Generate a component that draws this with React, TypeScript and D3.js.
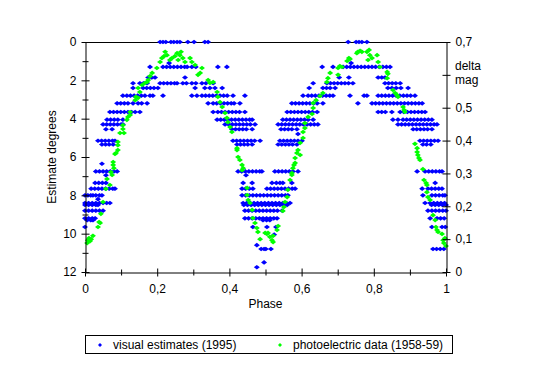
import React, { useEffect, useRef } from 'react';
import * as d3 from 'd3';

// visual estimates: [estimate, phases at that estimate]
const visualRows: [number, number[]][] = [
  [0.0, [0.208, 0.216, 0.224, 0.238, 0.246, 0.255, 0.263, 0.285, 0.302, 0.332, 0.341, 0.729, 0.751, 0.759, 0.767, 0.781]],
  [1.1, [0.233, 0.737]],
  [1.3, [0.18, 0.216, 0.226, 0.236, 0.246, 0.256, 0.266, 0.276, 0.283, 0.296, 0.307, 0.368, 0.393, 0.657, 0.687, 0.715, 0.725, 0.735, 0.745, 0.755, 0.765, 0.775, 0.785, 0.795, 0.805, 0.815, 0.825, 0.835, 0.845]],
  [1.85, [0.175, 0.185, 0.194, 0.277, 0.704, 0.731, 0.812, 0.822, 0.831]],
  [2.15, [0.133, 0.152, 0.162, 0.172, 0.208, 0.218, 0.228, 0.238, 0.248, 0.255, 0.271, 0.281, 0.296, 0.307, 0.324, 0.335, 0.355, 0.632, 0.67, 0.68, 0.69, 0.7, 0.71, 0.72, 0.73, 0.742, 0.831, 0.841, 0.851, 0.861, 0.873]],
  [2.4, [0.133, 0.161, 0.171, 0.181, 0.191, 0.202, 0.305, 0.332, 0.346, 0.36, 0.38, 0.621, 0.659, 0.669, 0.679, 0.693, 0.839, 0.85, 0.862, 0.875, 0.895]],
  [2.8, [0.105, 0.116, 0.126, 0.136, 0.146, 0.156, 0.166, 0.18, 0.188, 0.216, 0.296, 0.31, 0.324, 0.334, 0.344, 0.354, 0.364, 0.374, 0.384, 0.394, 0.41, 0.443, 0.604, 0.618, 0.628, 0.638, 0.648, 0.658, 0.668, 0.678, 0.687, 0.734, 0.773, 0.781, 0.812, 0.822, 0.832, 0.842, 0.852, 0.862, 0.872, 0.882, 0.892, 0.902, 0.914]],
  [3.2, [0.089, 0.099, 0.109, 0.119, 0.133, 0.147, 0.157, 0.172, 0.341, 0.355, 0.365, 0.375, 0.385, 0.395, 0.405, 0.413, 0.429, 0.573, 0.583, 0.593, 0.603, 0.613, 0.623, 0.633, 0.643, 0.659, 0.756, 0.795, 0.805, 0.815, 0.825, 0.835, 0.845, 0.855, 0.865, 0.875, 0.885, 0.895, 0.905, 0.915, 0.925, 0.934]],
  [3.65, [0.069, 0.079, 0.089, 0.099, 0.109, 0.119, 0.129, 0.139, 0.152, 0.355, 0.368, 0.378, 0.388, 0.398, 0.408, 0.418, 0.428, 0.443, 0.56, 0.57, 0.58, 0.59, 0.6, 0.61, 0.62, 0.63, 0.643, 0.812, 0.822, 0.832, 0.85, 0.873, 0.883, 0.893, 0.903, 0.913, 0.923, 0.933, 0.942]],
  [4.05, [0.061, 0.071, 0.081, 0.091, 0.105, 0.366, 0.376, 0.386, 0.396, 0.406, 0.416, 0.426, 0.436, 0.446, 0.456, 0.463, 0.548, 0.558, 0.568, 0.578, 0.588, 0.598, 0.608, 0.618, 0.632, 0.853, 0.867, 0.881, 0.891, 0.901, 0.911, 0.921, 0.931, 0.941, 0.951, 0.961]],
  [4.3, [0.05, 0.06, 0.07, 0.08, 0.09, 0.1, 0.105, 0.388, 0.398, 0.408, 0.418, 0.428, 0.438, 0.448, 0.458, 0.471, 0.535, 0.545, 0.555, 0.565, 0.575, 0.585, 0.595, 0.605, 0.615, 0.625, 0.635, 0.645, 0.867, 0.877, 0.887, 0.897, 0.907, 0.917, 0.927, 0.937, 0.947, 0.957, 0.967, 0.975]],
  [4.55, [0.058, 0.075, 0.407, 0.417, 0.427, 0.437, 0.447, 0.463, 0.543, 0.553, 0.563, 0.573, 0.587, 0.909, 0.919, 0.929, 0.939, 0.949, 0.961]],
  [4.8, [0.59]],
  [5.15, [0.036, 0.046, 0.056, 0.066, 0.076, 0.083, 0.41, 0.42, 0.43, 0.44, 0.45, 0.46, 0.47, 0.485, 0.54, 0.55, 0.56, 0.57, 0.58, 0.59, 0.601, 0.928, 0.938, 0.948, 0.958, 0.968, 0.978]],
  [5.35, [0.047, 0.057, 0.067, 0.078, 0.421, 0.431, 0.441, 0.451, 0.463, 0.535, 0.545, 0.555, 0.565, 0.575, 0.587, 0.936, 0.946, 0.958]],
  [6.35, [0.047]],
  [6.75, [0.03, 0.04, 0.05, 0.06, 0.07, 0.08, 0.089, 0.424, 0.434, 0.444, 0.454, 0.464, 0.474, 0.484, 0.49, 0.526, 0.536, 0.546, 0.556, 0.566, 0.576, 0.59, 0.92, 0.942, 0.952, 0.962, 0.972, 0.982, 0.989]],
  [6.95, [0.058, 0.446]],
  [7.35, [0.028, 0.038, 0.048, 0.058, 0.438, 0.463, 0.518, 0.53, 0.54, 0.548, 0.573, 0.97]],
  [7.65, [0.017, 0.027, 0.037, 0.047, 0.057, 0.067, 0.077, 0.083, 0.435, 0.445, 0.455, 0.465, 0.504, 0.514, 0.524, 0.534, 0.544, 0.554, 0.564, 0.574, 0.582, 0.934, 0.95, 0.96, 0.97, 0.98, 0.989]],
  [8.0, [0.0, 0.008, 0.016, 0.022, 0.03, 0.04, 0.047, 0.435, 0.445, 0.455, 0.465, 0.475, 0.485, 0.495, 0.505, 0.515, 0.525, 0.535, 0.545, 0.555, 0.562, 0.936, 0.961, 0.971, 0.981, 0.991, 0.997]],
  [8.2, [0.036]],
  [8.4, [0.0, 0.01, 0.02, 0.03, 0.04, 0.05, 0.06, 0.069, 0.438, 0.448, 0.458, 0.468, 0.478, 0.488, 0.498, 0.508, 0.518, 0.528, 0.538, 0.548, 0.558, 0.568, 0.942, 0.956, 0.966, 0.976, 0.986, 0.996]],
  [8.5, [0.0, 0.01, 0.02, 0.03, 0.036, 0.44, 0.45, 0.46, 0.47, 0.48, 0.49, 0.5, 0.51, 0.52, 0.53, 0.54, 0.55, 0.56, 0.96, 0.97, 0.98, 0.99, 1.0]],
  [8.8, [0.0, 0.01, 0.02, 0.03, 0.04, 0.05, 0.443, 0.453, 0.463, 0.473, 0.483, 0.493, 0.503, 0.513, 0.523, 0.533, 0.546, 0.95, 0.961, 0.971, 0.981, 0.991, 1.0]],
  [9.2, [0.0, 0.01, 0.02, 0.028, 0.443, 0.453, 0.463, 0.473, 0.483, 0.493, 0.503, 0.513, 0.523, 0.532, 0.956, 0.975, 0.985, 0.995]],
  [9.3, [0.006, 0.016, 0.022, 0.493, 0.503, 0.512]],
  [9.65, [0.0, 0.465, 0.504, 0.529, 0.961, 0.989, 0.998]],
  [10.05, [0.524]],
  [10.6, [0.476]],
  [10.8, [0.488, 0.496, 0.501, 0.515, 0.964, 0.974, 0.984, 0.994]],
  [11.5, [0.496]],
  [11.75, [0.476]],
];

// photoelectric data: [phase, delta mag]
const photoData: [number, number][] = [
  [0.006, 0.088], [0.008, 0.097], [0.011, 0.103], [0.014, 0.094], [0.017, 0.1], [0.022, 0.11],
  [0.036, 0.137], [0.039, 0.152], [0.042, 0.149], [0.044, 0.177], [0.05, 0.213], [0.058, 0.253],
  [0.061, 0.283], [0.069, 0.265], [0.072, 0.304], [0.075, 0.295], [0.078, 0.335], [0.078, 0.326],
  [0.08, 0.316], [0.083, 0.359], [0.086, 0.362], [0.091, 0.371], [0.091, 0.396], [0.091, 0.386],
  [0.097, 0.423], [0.105, 0.447], [0.105, 0.435], [0.108, 0.423], [0.116, 0.463], [0.119, 0.472],
  [0.125, 0.478], [0.125, 0.487], [0.139, 0.523], [0.141, 0.533], [0.147, 0.53], [0.152, 0.548],
  [0.147, 0.56], [0.158, 0.569], [0.166, 0.575], [0.172, 0.578], [0.175, 0.584], [0.18, 0.596],
  [0.186, 0.606], [0.199, 0.621], [0.208, 0.639], [0.213, 0.651], [0.219, 0.657], [0.222, 0.67],
  [0.227, 0.66], [0.235, 0.645], [0.241, 0.651], [0.249, 0.657], [0.255, 0.666], [0.258, 0.645],
  [0.263, 0.66], [0.266, 0.67], [0.271, 0.651], [0.277, 0.639], [0.291, 0.651], [0.296, 0.639],
  [0.305, 0.63], [0.313, 0.6], [0.319, 0.606], [0.324, 0.621], [0.341, 0.584], [0.346, 0.575],
  [0.355, 0.578], [0.366, 0.548], [0.368, 0.533], [0.374, 0.517], [0.38, 0.502], [0.388, 0.484],
  [0.393, 0.469], [0.396, 0.456], [0.402, 0.441], [0.407, 0.426], [0.421, 0.377], [0.421, 0.371],
  [0.424, 0.35], [0.429, 0.341], [0.435, 0.326], [0.438, 0.316], [0.435, 0.31], [0.449, 0.256],
  [0.449, 0.234], [0.452, 0.219], [0.457, 0.21], [0.463, 0.189], [0.465, 0.164], [0.471, 0.149],
  [0.476, 0.134], [0.479, 0.122], [0.485, 0.1], [0.499, 0.119], [0.504, 0.116], [0.507, 0.119],
  [0.512, 0.107], [0.518, 0.097], [0.521, 0.091], [0.521, 0.11], [0.532, 0.128], [0.535, 0.14],
  [0.548, 0.186], [0.551, 0.198], [0.554, 0.213], [0.56, 0.228], [0.562, 0.25], [0.568, 0.28],
  [0.573, 0.295], [0.573, 0.301], [0.576, 0.316], [0.579, 0.326], [0.582, 0.332], [0.582, 0.347],
  [0.587, 0.362], [0.59, 0.371], [0.596, 0.356], [0.596, 0.393], [0.604, 0.408], [0.604, 0.426],
  [0.609, 0.438], [0.609, 0.453], [0.618, 0.472], [0.629, 0.481], [0.632, 0.499], [0.632, 0.514],
  [0.64, 0.523], [0.651, 0.536], [0.659, 0.545], [0.67, 0.578], [0.673, 0.59], [0.679, 0.606],
  [0.701, 0.6], [0.701, 0.621], [0.706, 0.627], [0.712, 0.624], [0.726, 0.642], [0.731, 0.651],
  [0.734, 0.648], [0.753, 0.666], [0.756, 0.67], [0.762, 0.673], [0.767, 0.67], [0.781, 0.67],
  [0.787, 0.676], [0.789, 0.66], [0.795, 0.651], [0.784, 0.645], [0.809, 0.66], [0.812, 0.639],
  [0.817, 0.624], [0.837, 0.609], [0.839, 0.603], [0.837, 0.59], [0.853, 0.554], [0.859, 0.545],
  [0.864, 0.539], [0.867, 0.533], [0.881, 0.502], [0.884, 0.493], [0.886, 0.487], [0.914, 0.39],
  [0.92, 0.377], [0.92, 0.365], [0.922, 0.356], [0.925, 0.347], [0.928, 0.341], [0.936, 0.313],
  [0.939, 0.28], [0.945, 0.271], [0.947, 0.265], [0.947, 0.243], [0.95, 0.228], [0.956, 0.219],
  [0.964, 0.173], [0.97, 0.158], [0.972, 0.137], [0.975, 0.128], [0.978, 0.122], [0.989, 0.116],
  [0.992, 0.097], [0.994, 0.088], [1.0, 0.079], [0.997, 0.103],
];

const phaseTicks = [0, 0.2, 0.4, 0.6, 0.8, 1];
const phaseMinor = [0.1, 0.3, 0.5, 0.7, 0.9];
const estTicks = [0, 2, 4, 6, 8, 10, 12];
const estMinor = [1, 3, 5, 7, 9, 11];
const magTicks = [0, 0.1, 0.2, 0.3, 0.4, 0.5, 0.6, 0.7];

const FONT = 'Arial, "Liberation Sans", sans-serif';
const BLUE = '#0000ff';
const GREEN = '#00ff00';
const diamond = 'M0,-2.3L3,0L0,2.3L-3,0Z';

const comma = (d: number) => String(d).replace('.', ',');

const App: React.FC = () => {
  const svgRef = useRef<SVGSVGElement>(null);

  useEffect(() => {
    if (!svgRef.current) return;
    const svg = d3.select(svgRef.current);
    svg.selectAll('*').remove();

    const left = 85, right = 446, top = 42, bottom = 272;

    const x = d3.scaleLinear().domain([0, 1]).range([left, right]);
    const yEst = d3.scaleLinear().domain([0, 12]).range([top, bottom]);
    const yMag = d3.scaleLinear().domain([0, 0.7]).range([bottom, top]);

    // plot frame top line
    svg.append('line')
      .attr('x1', left).attr('x2', right)
      .attr('y1', top + 0.5).attr('y2', top + 0.5)
      .attr('stroke', '#000');

    // visual estimates
    const visual = visualRows.flatMap(([est, phases]) => phases.map(p => [p, est] as [number, number]));
    svg.append('g')
      .selectAll('path')
      .data(visual)
      .enter()
      .append('path')
      .attr('d', diamond)
      .attr('transform', d => `translate(${x(d[0])},${yEst(d[1])})`)
      .attr('fill', BLUE);

    // photoelectric data
    svg.append('g')
      .selectAll('path')
      .data(photoData)
      .enter()
      .append('path')
      .attr('d', diamond)
      .attr('transform', d => `translate(${x(d[0])},${yMag(d[1])})`)
      .attr('fill', GREEN);

    const styleAxis = (g: d3.Selection<SVGGElement, unknown, null, undefined>) => {
      g.selectAll('text').style('font-family', FONT).style('font-size', '12px').attr('fill', '#000');
      g.selectAll('line').attr('stroke', '#000');
      g.select('.domain').attr('stroke', '#000');
    };

    // left axis
    const gL = svg.append('g')
      .attr('transform', `translate(${left + 0.5},0)`)
      .call(d3.axisLeft(yEst).tickValues(estTicks).tickSize(4).tickSizeOuter(0).tickPadding(5).tickFormat(d => comma(d as number)));
    gL.selectAll('.tick line').attr('x1', 4);
    styleAxis(gL);
    const gLm = svg.append('g')
      .attr('transform', `translate(${left + 0.5},0)`)
      .call(d3.axisLeft(yEst).tickValues(estMinor).tickSize(3).tickFormat(() => ''));
    gLm.select('.domain').remove();
    gLm.selectAll('.tick line').attr('x1', 3).attr('stroke', '#000');

    // right axis
    const gR = svg.append('g')
      .attr('transform', `translate(${right + 0.5},0)`)
      .call(d3.axisRight(yMag).tickValues(magTicks).tickSize(4).tickSizeOuter(0).tickPadding(5)
        .tickFormat(d => ((d as number) === 0.6 ? '' : comma(d as number))));
    gR.selectAll('.tick line').attr('x1', -4);
    styleAxis(gR);

    // bottom axis
    const gB = svg.append('g')
      .attr('transform', `translate(0,${bottom + 0.5})`)
      .call(d3.axisBottom(x).tickValues(phaseTicks).tickSize(4).tickSizeOuter(0).tickPadding(8).tickFormat(d => comma(d as number)));
    gB.selectAll('.tick line').attr('y1', -4);
    styleAxis(gB);
    const gBm = svg.append('g')
      .attr('transform', `translate(0,${bottom + 0.5})`)
      .call(d3.axisBottom(x).tickValues(phaseMinor).tickSize(3).tickFormat(() => ''));
    gBm.select('.domain').remove();
    gBm.selectAll('.tick line').attr('y1', -3).attr('stroke', '#000');

    // axis titles
    svg.append('text')
      .attr('transform', `translate(56,${(top + bottom) / 2}) rotate(-90)`)
      .attr('text-anchor', 'middle')
      .style('font-family', FONT).style('font-size', '12px')
      .text('Estimate degrees');

    svg.append('text')
      .attr('x', (left + right) / 2)
      .attr('y', 308)
      .attr('text-anchor', 'middle')
      .style('font-family', FONT).style('font-size', '12px')
      .text('Phase');

    const dm = svg.append('text')
      .style('font-family', FONT).style('font-size', '12px');
    dm.append('tspan').attr('x', 455).attr('y', 70).text('delta');
    dm.append('tspan').attr('x', 455).attr('y', 84).text('mag');

    // legend
    const legend = svg.append('g');
    legend.append('rect')
      .attr('x', 85.5).attr('y', 335.5)
      .attr('width', 367).attr('height', 18)
      .attr('fill', '#fff').attr('stroke', '#000');
    const items = [
      { label: 'visual estimates (1995)', color: BLUE, x: 100 },
      { label: 'photoelectric data (1958-59)', color: GREEN, x: 280 },
    ];
    items.forEach(it => {
      legend.append('path')
        .attr('d', 'M0,-2L2,0L0,2L-2,0Z')
        .attr('transform', `translate(${it.x},345)`)
        .attr('fill', it.color);
      legend.append('text')
        .attr('x', it.x + 13).attr('y', 349)
        .style('font-family', FONT).style('font-size', '12px')
        .text(it.label);
    });
  }, []);

  return (
    <svg
      ref={svgRef}
      width={542}
      height={368}
      style={{ position: 'absolute', left: 0, top: 0, background: '#fff' }}
    />
  );
};

export default App;
